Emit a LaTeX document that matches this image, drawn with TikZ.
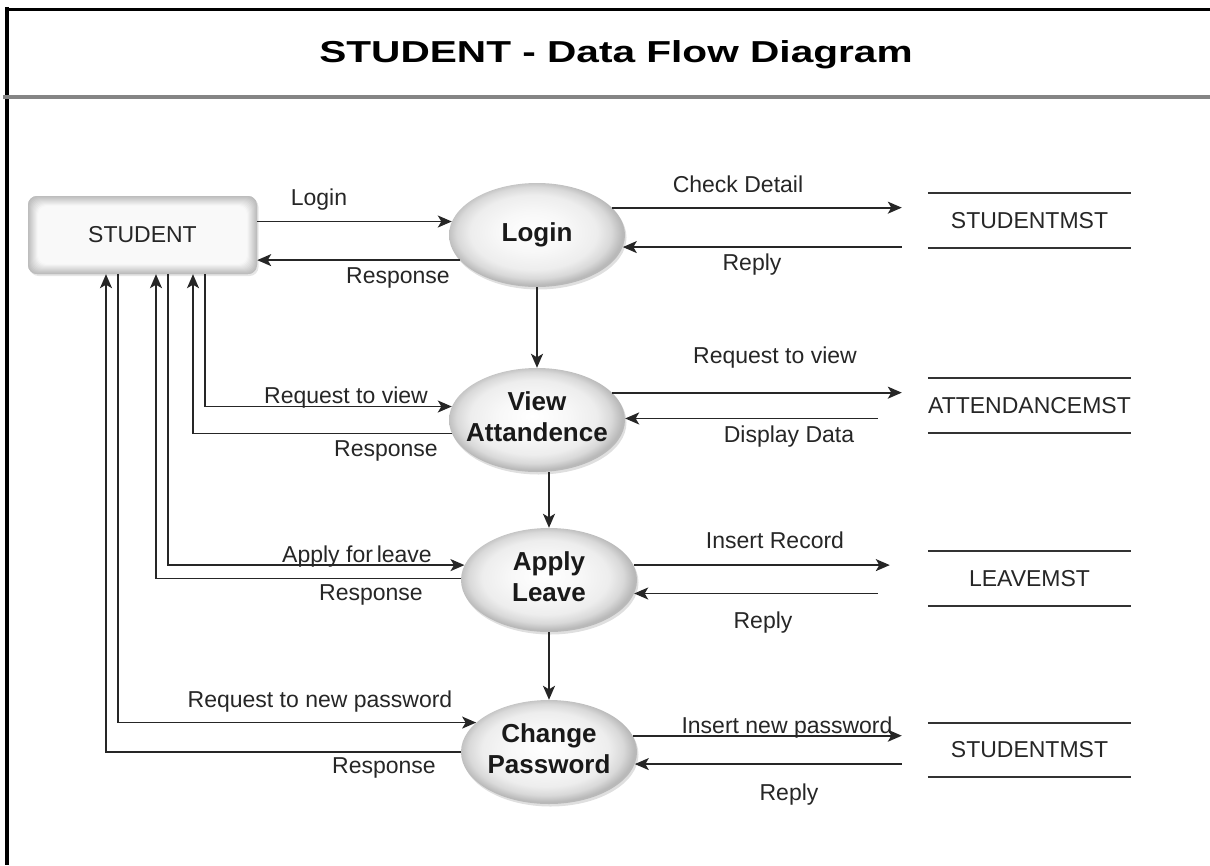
\documentclass[tikz,border=0pt]{standalone}
\usepackage{fontspec}
\setmainfont{Liberation Sans}
\newfontfamily\titlefont[FakeStretch=1.34]{Liberation Sans Bold}
\usetikzlibrary{shapes.geometric,shadows,arrows.meta,calc}
\pgfdeclareradialshading{bubble}{\pgfpoint{-1.5bp}{2bp}}{color(0bp)=(white); color(10bp)=(gray!6); color(18bp)=(gray!14); color(22bp)=(gray!30); color(25bp)=(gray!55); color(50bp)=(gray!55)}
\newcommand{\proctext}[1]{\makebox[0pt]{\begin{tabular}{@{}c@{}}#1\end{tabular}}}
\tikzset{
    process/.style={ellipse,minimum width=176pt,minimum height=104pt,inner sep=0pt,shading=bubble,
        drop shadow={opacity=0.25,shadow xshift=1.5pt,shadow yshift=-2.5pt},
        font=\fontsize{26}{31}\selectfont\bfseries,text=black!90},
    entity/.style={rectangle,rounded corners=9pt,minimum width=229pt,minimum height=78pt,fill=gray!55,
        drop shadow={opacity=0.2,shadow xshift=1.5pt,shadow yshift=-2pt},
        path picture={\foreach \k in {0,...,10}{
            \pgfmathtruncatemacro{\shadeval}{max(5,52-5*\k)}
            \fill[gray!\shadeval,rounded corners=9pt] ([shift={(\k pt,-\k pt)}]path picture bounding box.north west)
                rectangle ([shift={(-\k pt,\k pt)}]path picture bounding box.south east);}},
        font=\fontsize{23}{27}\selectfont,text=black!85},
    store/.style={minimum width=203pt,minimum height=54pt,inner sep=0pt,font=\fontsize{23}{27}\selectfont,text=black!85},
    lbl/.style={anchor=base,inner sep=0pt,font=\fontsize{23}{27}\selectfont,text=black!85},
    flow/.style={line width=1.7pt,draw=black!85,-{Stealth[length=14pt,width=12pt,inset=3.5pt]}}
}

\begin{document}
\begin{tikzpicture}[x=1pt,y=-1pt]
    \useasboundingbox (0,0) rectangle (1210,865);
    % frame and title band
    \draw[line width=4.5pt] (7,7) -- (7,865);
    \draw[line width=3pt] (5,9) -- (1210,9);
    \draw[black!48,line width=4pt] (3,96.5) -- (1210,96.5);
    \node[anchor=base,font=\titlefont\fontsize{30.3}{36}\selectfont] (title) at (616,62) {STUDENT - Data Flow Diagram};

    \node[entity] (student) at (142.5,235) {STUDENT};

    \node[process] (login) at (537,235) {\proctext{Login}};
    \node[process] (view) at (537,420) {\proctext{View\\Attandence}};
    \node[process] (apply) at (549,580) {\proctext{Apply\\Leave}};
    \node[process] (chpw) at (549,752) {\proctext{Change\\Password}};

    \node[store] (stud1) at (1029.5,220.5) {STUDENTMST};
    \node[store] (attm) at (1029.5,405.5) {ATTENDANCEMST};
    \node[store] (leavem) at (1029.5,578.5) {LEAVEMST};
    \node[store] (stud2) at (1029.5,750) {STUDENTMST};
    \foreach \s in {stud1,attm,leavem,stud2}
        \draw[line width=2pt,black!80] (\s.north west) -- (\s.north east) (\s.south west) -- (\s.south east);

    % student <-> processes
    \draw[flow] (student.east |- login.171) -- (login.171);
    \draw[flow] (login.198) -- (login.198 -| student.east);
    \draw[flow] ([xshift=62.5pt]student.south) |- (view.171);
    \draw[flow] (view.189) -| ([xshift=50.5pt]student.south);
    \draw[flow] ([xshift=25.5pt]student.south) |- (apply.170);
    \draw[flow] (apply.179) -| ([xshift=13.5pt]student.south);
    \draw[flow] ([xshift=-24.5pt]student.south) |- (chpw.158);
    \draw[flow] (chpw.west) -| ([xshift=-36.5pt]student.south);

    % process chain
    \draw[flow] (login) -- (view);
    \draw[flow] (apply.north |- view.south) -- (apply.north);
    \draw[flow] (apply) -- (chpw);

    % processes <-> stores
    \draw[flow] (login.20) -- ($(login.20 -| stud1.west)+(-26pt,0)$);
    \draw[flow] ($(login.352 -| stud1.west)+(-26pt,0)$) -- (login.352);
    \draw[flow] (view.20) -- ($(view.20 -| attm.west)+(-26pt,0)$);
    \draw[flow] ($(view.1 -| attm.west)+(-50pt,0)$) -- (view.1);
    \draw[flow] (apply.10) -- ($(apply.10 -| leavem.west)+(-38pt,0)$);
    \draw[flow] ($(apply.351 -| leavem.west)+(-50pt,0)$) -- (apply.351);
    \draw[flow] (chpw.11) -- ($(chpw.11 -| stud2.west)+(-26pt,0)$);
    \draw[flow] ($(chpw.352 -| stud2.west)+(-26pt,0)$) -- (chpw.352);

    % flow labels
    \node[lbl] (l-login) at (319,205) {Login};
    \node[lbl] (l-resp1) at (398,283) {Response};
    \node[lbl] (l-check) at (738,192) {Check Detail};
    \node[lbl] (l-reply1) at (752,270) {Reply};
    \node[lbl] (l-req1) at (346,403) {Request to view};
    \node[lbl] (l-resp2) at (386,456) {Response};
    \node[lbl] (l-req2) at (775,363) {Request to view};
    \node[lbl] (l-disp) at (789,442) {Display Data};
    \node[lbl] (l-apply) at (357,562) {Apply for\,leave};
    \node[lbl] (l-resp3) at (371,600) {Response};
    \node[lbl] (l-ins) at (775,548) {Insert Record};
    \node[lbl] (l-reply2) at (763,628) {Reply};
    \node[lbl] (l-newpw) at (320,707) {Request to new password};
    \node[lbl] (l-resp4) at (384,773) {Response};
    \node[lbl] (l-inspw) at (787,733) {Insert new password};
    \node[lbl] (l-reply3) at (789,800) {Reply};
\end{tikzpicture}
\end{document}
